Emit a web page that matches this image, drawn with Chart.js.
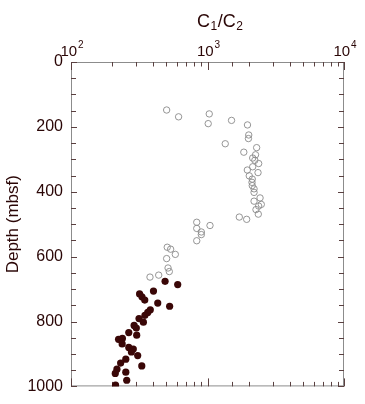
<!DOCTYPE html>
<html>
<head>
<meta charset="utf-8">
<script src="https://cdn.jsdelivr.net/npm/chart.js@4"></script>
<style>
  html, body { margin: 0; padding: 0; background: #fff; }
</style>
</head>
<body>
<canvas id="chart" width="365" height="404"></canvas>
<script>
// open circles (upper part)
const openRatio = [502, 614, 1030, 1012, 1500, 1963, 2005, 1995, 1349, 2291,
  1845, 2249, 2143, 2222, 2371, 2143, 1958, 2345, 2023, 2128,
  2118, 2128, 2193, 2193, 2427, 2193, 2478, 2371, 2265, 2356,
  1710, 1936, 834, 1043, 834, 901, 901, 834, 507, 537,
  581, 502, 514, 525, 379, 439];
const openDepth = [148, 169, 160, 190, 180, 194, 225, 236, 252, 264,
  278, 286, 296, 303, 313, 323, 333, 341, 351, 361,
  371, 381, 391, 402, 419, 429, 439, 444, 455, 469,
  478, 485, 494, 504, 513, 524, 532, 551, 571, 577,
  593, 606, 635, 646, 663, 657];

// filled circles (lower part)
const filledRatio = [489, 605, 402, 318, 331, 347, 432, 528, 381, 365,
  348, 315, 339, 290, 301, 265, 303, 223, 238, 237,
  265, 286, 277, 308, 252, 231, 330, 217, 211, 252,
  256, 212];
const filledDepth = [676, 686, 706, 715, 724, 734, 743, 753, 764, 772,
  781, 791, 802, 812, 820, 834, 842, 855, 852, 869,
  880, 885, 894, 905, 916, 928, 937, 947, 960, 956,
  981, 996];

// tick labels
const xLabelValues = [100, 1000, 10000];
const xLabelExps = ['2', '3', '4'];
const yLabelValues = [0, 200, 400, 600, 800, 1000];

const FONT = "'Liberation Sans', Arial, Helvetica, sans-serif";
const TEXT = '#2a0606';
const FRAME = '#8c8c8c';

function toPoints(xs, ys) {
  return xs.map((x, i) => ({ x: x, y: ys[i] }));
}

// frame, inward ticks on all four sides, 10^n labels and the C1/C2 title
const frameTicks = {
  id: 'frameTicks',
  beforeDatasetsDraw(chart) {
    const { ctx, chartArea: a, scales } = chart;
    ctx.save();
    ctx.strokeStyle = FRAME;
    ctx.lineWidth = 1;
    ctx.strokeRect(a.left + 0.5, a.top + 0.5, a.right - a.left - 1, a.bottom - a.top - 1);

    ctx.strokeStyle = '#5a4040';
    scales.x.ticks.forEach(t => {
      const px = Math.round(scales.x.getPixelForValue(t.value)) + 0.5;
      const major = xLabelValues.includes(t.value);
      const len = major ? 8 : 4.5;
      ctx.beginPath();
      ctx.moveTo(px, a.top); ctx.lineTo(px, a.top + len);
      ctx.moveTo(px, a.bottom); ctx.lineTo(px, a.bottom - len);
      ctx.stroke();
    });
    scales.y.ticks.forEach(t => {
      const py = Math.round(scales.y.getPixelForValue(t.value)) + 0.5;
      const len = yLabelValues.includes(t.value) ? 6 : 5;
      ctx.beginPath();
      ctx.moveTo(a.left, py); ctx.lineTo(a.left + len, py);
      ctx.moveTo(a.right, py); ctx.lineTo(a.right - len, py);
      ctx.stroke();
    });
    ctx.restore();
  },
  afterDraw(chart) {
    const { ctx, chartArea: a, scales } = chart;
    ctx.save();
    ctx.fillStyle = TEXT;
    ctx.textBaseline = 'alphabetic';
    ctx.textAlign = 'left';

    // 10^n labels above the top axis
    xLabelValues.forEach((v, i) => {
      const px = scales.x.getPixelForValue(v);
      ctx.font = '15px ' + FONT;
      const wBase = ctx.measureText('10').width;
      ctx.font = '10px ' + FONT;
      const wExp = ctx.measureText(xLabelExps[i]).width;
      const x0 = px - (wBase + wExp + 1) / 2 + 1;
      ctx.font = '15px ' + FONT;
      ctx.fillText('10', x0, a.top - 6.5);
      ctx.font = '10px ' + FONT;
      ctx.fillText(xLabelExps[i], x0 + wBase + 1, a.top - 14.5);
    });

    // x axis title C1/C2 with subscripts
    let x = 197;
    const base = 27;
    const parts = [['C', 18, 0], ['1', 12, 3], ['/C', 18, 0], ['2', 12, 3]];
    parts.forEach(p => {
      ctx.font = p[1] + 'px ' + FONT;
      ctx.fillText(p[0], x, base + p[2]);
      x += ctx.measureText(p[0]).width + 0.5;
    });
    ctx.restore();
  }
};

new Chart(document.getElementById('chart'), {
  type: 'scatter',
  data: {
    datasets: [
      {
        label: 'open',
        data: toPoints(openRatio, openDepth),
        pointRadius: 3.2,
        pointBorderWidth: 0.9,
        pointBorderColor: '#8a8a8a',
        pointBackgroundColor: 'rgba(255,255,255,0)'
      },
      {
        label: 'filled',
        data: toPoints(filledRatio, filledDepth),
        pointRadius: 3.6,
        pointBorderWidth: 0,
        pointBorderColor: '#3a0707',
        pointBackgroundColor: '#3a0707'
      }
    ]
  },
  options: {
    responsive: false,
    animation: false,
    layout: { padding: { left: 0, right: 21, top: 0, bottom: 15 } },
    plugins: {
      legend: { display: false },
      tooltip: { enabled: false }
    },
    scales: {
      x: {
        type: 'logarithmic',
        position: 'top',
        min: 100,
        max: 10000,
        border: { display: false },
        grid: { display: false, drawTicks: false },
        afterFit(scale) { scale.height = 62; },
        ticks: {
          display: false,
          autoSkip: false,
          maxRotation: 0
        }
      },
      y: {
        type: 'linear',
        reverse: true,
        min: 0,
        max: 1000,
        border: { display: false },
        grid: { display: false, drawTicks: false },
        afterFit(scale) { scale.width = 71; },
        title: {
          display: true,
          text: 'Depth (mbsf)',
          color: TEXT,
          font: { family: FONT, size: 17 },
          padding: { top: 3, bottom: 0 }
        },
        ticks: {
          stepSize: 50,
          autoSkip: false,
          padding: 8,
          color: TEXT,
          font: { family: FONT, size: 16 },
          callback(value) {
            return yLabelValues.includes(value) ? String(value) : '';
          }
        }
      }
    }
  },
  plugins: [frameTicks]
});
</script>
</body>
</html>
